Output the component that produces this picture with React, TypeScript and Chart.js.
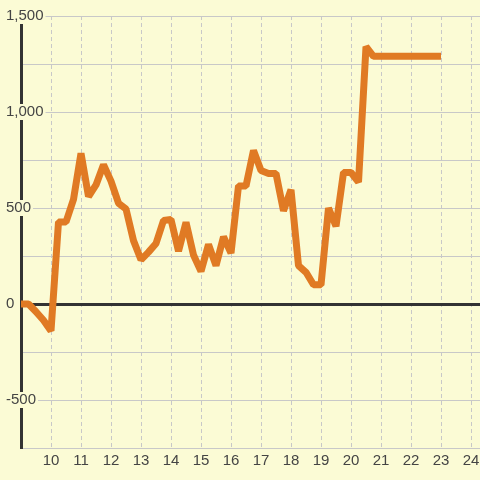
import React, { useEffect, useRef } from "react";
import { Chart, registerables } from "chart.js";

Chart.register(...registerables);

const xValues = [
  9, 9.25, 9.5, 9.75, 10, 10.25, 10.5, 10.75, 11, 11.25, 11.5, 11.75,
  12, 12.25, 12.5, 12.75, 13, 13.25, 13.5, 13.75, 14, 14.25, 14.5, 14.75,
  15, 15.25, 15.5, 15.75, 16, 16.25, 16.5, 16.75, 17, 17.25, 17.5, 17.75,
  18, 18.25, 18.5, 18.75, 19, 19.25, 19.5, 19.75, 20, 20.25, 20.5, 20.75,
  21, 21.25, 21.5, 21.75, 22, 22.25, 22.5, 22.75, 23,
];

const seriesValues = [
  0, 0, -40, -85, -140, 427, 427, 545, 785, 560, 620, 725,
  640, 525, 495, 330, 230, 270, 315, 435, 440, 275, 425, 255,
  170, 310, 200, 350, 265, 615, 615, 800, 695, 680, 680, 485,
  595, 200, 165, 100, 100, 500, 405, 685, 685, 635, 1340, 1290,
  1290, 1290, 1290, 1290, 1290, 1290, 1290, 1290, 1290,
];

const xTickValues = [10, 11, 12, 13, 14, 15, 16, 17, 18, 19, 20, 21, 22, 23, 24];
const yLabelValues = [1500, 1000, 500, 0, -500];

const BG = "#fbfbd5";
const LINE = "#e07a24";
const GRID = "#c8c8c8";
const AXIS = "#333333";
const TEXT = "#444444";
const FONT = "'Liberation Sans', Arial, sans-serif";

export default function App() {
  const ref = useRef<HTMLCanvasElement | null>(null);

  useEffect(() => {
    if (!ref.current) return;
    const points = xValues.map((x, i) => ({ x, y: seriesValues[i] }));
    const chart = new Chart(ref.current, {
      type: "line",
      data: {
        datasets: [
          {
            data: points,
            borderColor: LINE,
            backgroundColor: LINE,
            borderWidth: 7,
            borderJoinStyle: "bevel",
            pointRadius: 0,
            tension: 0,
            fill: false,
          },
        ],
      },
      options: {
        animation: false,
        responsive: true,
        maintainAspectRatio: false,
        layout: { padding: { left: 6, top: 16, right: 0, bottom: 6.5 } },
        plugins: { legend: { display: false }, tooltip: { enabled: false } },
        scales: {
          x: {
            type: "linear",
            min: 9,
            max: 24.3,
            ticks: {
              stepSize: 1,
              includeBounds: false,
              autoSkip: false,
              maxRotation: 0,
              padding: 0,
              color: TEXT,
              font: { family: FONT, size: 15, lineHeight: 1.7 },
              callback: (v: any) => (xTickValues.includes(Number(v)) ? String(v) : ""),
            },
            grid: { color: GRID, lineWidth: 1, drawTicks: false },
            border: { color: GRID, width: 1, dash: [4, 3] },
          },
          y: {
            min: -750,
            max: 1500,
            afterFit: (scale: any) => {
              scale.width = 15;
            },
            ticks: {
              stepSize: 250,
              mirror: true,
              padding: -15,
              color: TEXT,
              font: { family: FONT, size: 15 },
              callback: (v: any) =>
                yLabelValues.includes(Number(v)) ? Number(v).toLocaleString("en-US") : "",
              showLabelBackdrop: true,
              backdropColor: (ctx: any) =>
                yLabelValues.includes(ctx.tick?.value) ? BG : "rgba(0,0,0,0)",
              backdropPadding: { left: 2, right: 2, top: -1, bottom: -1 },
            },
            grid: {
              color: (ctx: any) => (ctx.tick?.value === 0 ? AXIS : GRID),
              lineWidth: (ctx: any) => (ctx.tick?.value === 0 ? 3 : 1),
              drawTicks: false,
            },
            border: { color: AXIS, width: 3 },
          },
        },
      } as any,
    });
    return () => chart.destroy();
  }, []);

  return (
    <div
      style={{
        position: "absolute",
        left: 0,
        top: 0,
        width: 480,
        height: 480,
        background: BG,
      }}
    >
      <canvas ref={ref} />
    </div>
  );
}
